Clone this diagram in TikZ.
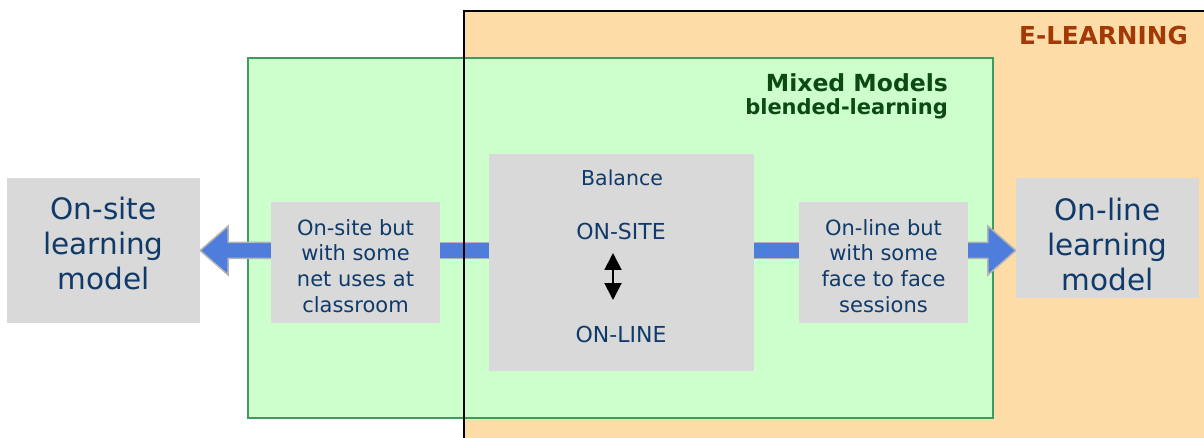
\documentclass[tikz,border=0pt]{standalone}
\usepackage{fontspec}
\setmainfont{DejaVu Sans}
\usetikzlibrary{calc,arrows.meta}
\definecolor{orangebg}{HTML}{FDDCA8}
\definecolor{greenbg}{HTML}{CCFFCC}
\definecolor{greenline}{HTML}{3F9B5F}
\definecolor{boxgray}{HTML}{D9D9D9}
\definecolor{txtblue}{HTML}{0F3A6A}
\definecolor{txtgreen}{HTML}{0C4A12}
\definecolor{txtbrown}{HTML}{A33A06}
\definecolor{arrowblue}{HTML}{4E7DDB}
\definecolor{arrowedge}{HTML}{B4B4B4}
\pgfdeclarelayer{bg}
\pgfsetlayers{bg,main}
\begin{document}
\begin{tikzpicture}[x=1pt,y=-1pt,
  graybox/.style={fill=boxgray, inner sep=0pt},
  bigtext/.style={inner sep=0pt, text=txtblue, align=center, font=\fontsize{29.5}{35}\selectfont},
  smalltext/.style={inner sep=0pt, text=txtblue, align=center, font=\fontsize{21}{25.7}\selectfont},
  midtext/.style={inner sep=0pt, text=txtblue, font=\fontsize{20.5}{24}\selectfont},
  fatarrow/.style={fill=arrowblue, draw=arrowedge, line width=1.5pt, line join=miter},
  titletext/.style={inner sep=0pt, anchor=base east}]
\useasboundingbox (0,0) rectangle (1204,438);
\begin{pgfonlayer}{bg}
\fill[white] (0,0) rectangle (1204,438);
\fill[orangebg] (464,11) rectangle (1204,438);
\node[draw=greenline, fill=greenbg, line width=1.5pt, minimum width=745pt, minimum height=360pt, inner sep=0pt] (mixed) at (620.5,238) {};
\end{pgfonlayer}

\node[titletext, text=txtbrown, font=\fontsize{24.7}{28}\selectfont\bfseries] (elearn) at (1188,45) {E-LEARNING};
\node[titletext, text=txtgreen, font=\fontsize{23.5}{26}\selectfont\bfseries] (mm) at (948,92) {Mixed Models};
\node[titletext, text=txtgreen, font=\fontsize{21}{24}\selectfont\bfseries] (bl) at (948,115) {blended-learning};

\node[graybox, minimum width=193pt, minimum height=145pt] (lb) at (103.5,250.5) {};
\node[bigtext] (lbt) at (103.5,244) {On-site\\learning\\model};
\node[graybox, minimum width=183pt, minimum height=120pt] (rb) at (1107.5,238) {};
\node[bigtext] (rbt) at (1107.5,245) {On-line\\learning\\model};

\node[graybox, minimum width=169pt, minimum height=121pt] (ls) at (355.5,262.5) {};
\node[smalltext] (lst) at (355.5,266) {On-site but\\with some\\net uses at\\classroom};
\node[graybox, minimum width=169pt, minimum height=121pt] (rs) at (883.5,262.5) {};
\node[smalltext] (rst) at (883.5,266) {On-line but\\with some\\face to face\\sessions};

\node[graybox, minimum width=265pt, minimum height=217pt] (ctr) at (621.5,262.5) {};
\node[midtext] (bal) at (622,178) {Balance};
\node[midtext, font=\fontsize{22}{24}\selectfont] (ons) at (621,231) {ON-SITE};
\node[midtext, font=\fontsize{22}{24}\selectfont] (onl) at (621,334) {ON-LINE};
\coordinate (da1) at (613,253);
\coordinate (da2) at (613,300);
\draw[line width=2pt, {Triangle[width=17pt,length=17pt]}-{Triangle[width=17pt,length=17pt]}] (da1) -- (da2);

\begin{pgfonlayer}{bg}
% left arrow: centre box -> small box, small box -> on-site model
\filldraw[fatarrow] let \p1=(ctr.west), \p2=(ls.east), \p3=(lb.east) in
  (\x1+2pt,\y3+8pt) rectangle (\x2-2pt,\y3-8pt);
\filldraw[fatarrow] let \p1=(ls.west), \p2=(lb.east) in
  (\x1+2pt,\y2+8pt) -- (\x2+28pt,\y2+8pt) -- (\x2+28pt,\y2+24.5pt) -- (\x2,\y2)
  -- (\x2+28pt,\y2-24.5pt) -- (\x2+28pt,\y2-8pt) -- (\x1+2pt,\y2-8pt) -- cycle;
% right arrow
\filldraw[fatarrow] let \p1=(ctr.east), \p2=(rs.west), \p3=(lb.east) in
  (\x1-2pt,\y3+8pt) rectangle (\x2+2pt,\y3-8pt);
\filldraw[fatarrow] let \p1=(rs.east), \p2=(rb.west), \p3=(lb.east) in
  (\x1-2pt,\y3+8pt) -- (\x2-28pt,\y3+8pt) -- (\x2-28pt,\y3+24.5pt) -- (\x2,\y3)
  -- (\x2-28pt,\y3-24.5pt) -- (\x2-28pt,\y3-8pt) -- (\x1-2pt,\y3-8pt) -- cycle;
\end{pgfonlayer}

% e-learning border on top
\draw[black, line width=1.8pt] (464,438) -- (464,11) -- (1204,11);
\end{tikzpicture}
\end{document}
